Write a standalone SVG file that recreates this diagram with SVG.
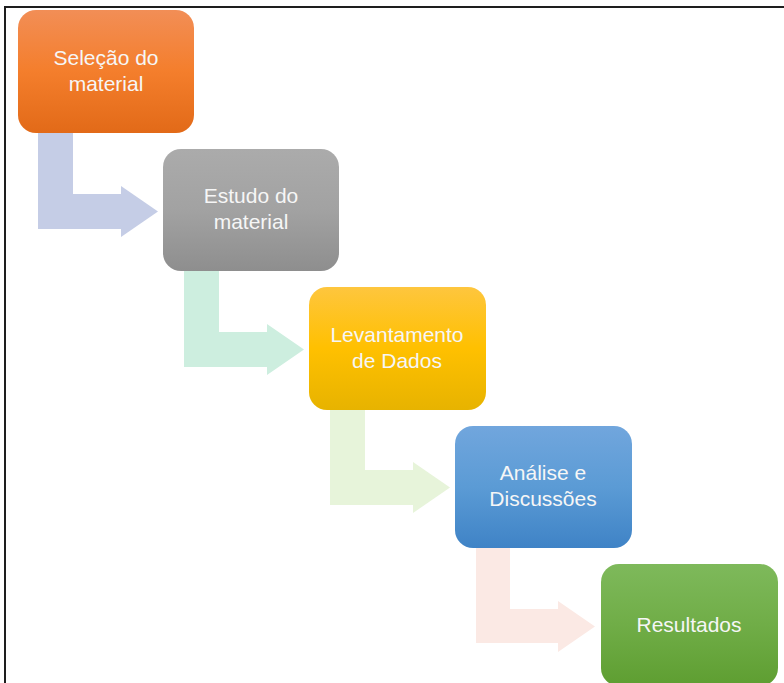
<svg xmlns="http://www.w3.org/2000/svg" width="784" height="683" viewBox="0 0 784 683">
<style>
.frame{fill:none;stroke:#1e1e1e;stroke-width:2}
.lbl{font-family:"Liberation Sans","Open Sans",sans-serif;font-size:21px;fill:#f6f6f6;text-anchor:middle}
</style>
<defs>
<linearGradient id="gOrange" x1="0" y1="0" x2="0" y2="1"><stop offset="0" stop-color="#f28e56"/><stop offset="0.5" stop-color="#f47e2c"/><stop offset="1" stop-color="#e26a18"/></linearGradient>
<linearGradient id="gGray" x1="0" y1="0" x2="0" y2="1"><stop offset="0" stop-color="#ababab"/><stop offset="0.5" stop-color="#a2a2a2"/><stop offset="1" stop-color="#8e8e8e"/></linearGradient>
<linearGradient id="gYellow" x1="0" y1="0" x2="0" y2="1"><stop offset="0" stop-color="#fec63e"/><stop offset="0.5" stop-color="#ffc000"/><stop offset="1" stop-color="#e7b300"/></linearGradient>
<linearGradient id="gBlue" x1="0" y1="0" x2="0" y2="1"><stop offset="0" stop-color="#71a6dd"/><stop offset="0.5" stop-color="#5b9bd5"/><stop offset="1" stop-color="#3f83c6"/></linearGradient>
<linearGradient id="gGreen" x1="0" y1="0" x2="0" y2="1"><stop offset="0" stop-color="#7eb95b"/><stop offset="0.5" stop-color="#70ad47"/><stop offset="1" stop-color="#5e9e31"/></linearGradient>
</defs>
<path class="frame" d="M784,7 H5 V683"/>
<g id="connectors">
<path id="a1" fill="#c5cde6" d="M38,130 H73 V194 H121 V186 L158,211.5 L121,237 V229 H38 Z"/>
<path id="a2" fill="#cdeedf" d="M184,268 H219 V332 H267 V324 L304,349.5 L267,375 V367 H184 Z"/>
<path id="a3" fill="#e7f4da" d="M330,406 H365 V470 H413 V462 L450,487.5 L413,513 V505 H330 Z"/>
<path id="a4" fill="#fbe9e4" d="M476,545 H510 V609 H558 V601 L595,626.5 L558,652 V643 H476 Z"/>
</g>
<g id="n1"><rect x="18" y="10" width="176" height="123" rx="18" fill="url(#gOrange)"/><text class="lbl" x="106" y="65">Seleção do</text><text class="lbl" x="106" y="91">material</text></g>
<g id="n2"><rect x="163" y="149" width="176" height="122" rx="18" fill="url(#gGray)"/><text class="lbl" x="251" y="203">Estudo do</text><text class="lbl" x="251" y="229">material</text></g>
<g id="n3"><rect x="309" y="287" width="177" height="123" rx="18" fill="url(#gYellow)"/><text class="lbl" x="397" y="342">Levantamento</text><text class="lbl" x="397" y="368">de Dados</text></g>
<g id="n4"><rect x="455" y="426" width="177" height="122" rx="18" fill="url(#gBlue)"/><text class="lbl" x="543" y="480">Análise e</text><text class="lbl" x="543" y="506">Discussões</text></g>
<g id="n5"><rect x="601" y="564" width="177" height="122" rx="18" fill="url(#gGreen)"/><text class="lbl" x="689" y="632">Resultados</text></g>
</svg>
